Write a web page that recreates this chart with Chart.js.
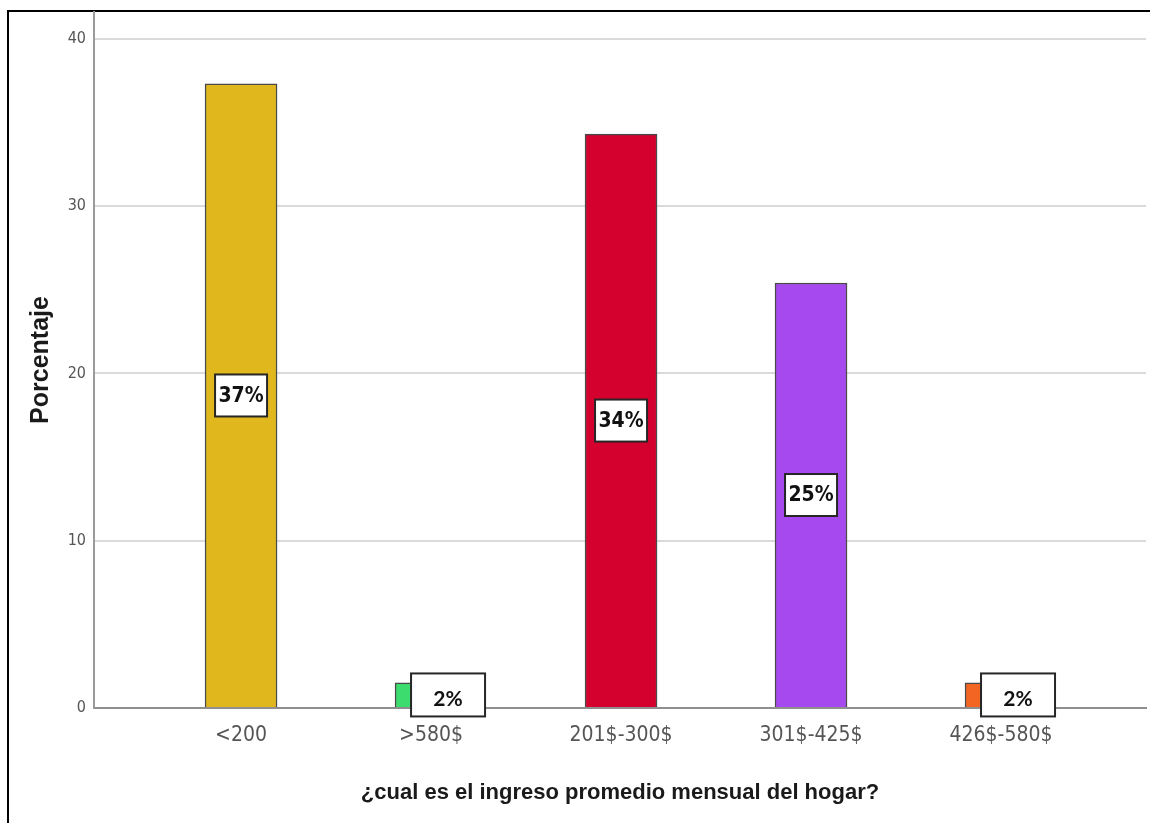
<!DOCTYPE html>
<html lang="es">
<head>
<meta charset="utf-8">
<title>Ingreso promedio mensual del hogar</title>
<script src="https://cdn.jsdelivr.net/npm/chart.js@4/dist/chart.umd.min.js"></script>
<style>
  html, body { margin: 0; padding: 0; background: #fff; }
  #wrap { position: relative; width: 1150px; height: 823px; overflow: hidden; }
  #frame { position: absolute; left: 7px; top: 10px; width: 1200px; height: 900px;
           border-left: 2px solid #000; border-top: 2px solid #000; }
  #chart { position: absolute; left: 0; top: 0; }
</style>
</head>
<body>
<div id="wrap">
  <div id="frame"></div>
  <canvas id="chart" width="1150" height="823"></canvas>
</div>
<script>
// income brackets and share of households (%)
const categories = ["<200", ">580$", "201$-300$", "301$-425$", "426$-580$"];
const percentages = [37.3, 1.5, 34.3, 25.4, 1.5];
const barColors = ["#e0b81e", "#3ddc6e", "#d4002e", "#a64af0", "#f26522"];
const yTicks = [0, 10, 20, 30, 40];

const narrow = '"Liberation Sans Narrow", "DejaVu Sans Condensed", sans-serif';

// white boxes with the rounded percentage on each bar
const barLabels = {
  id: "barLabels",
  afterDatasetsDraw(chart) {
    const ctx = chart.ctx;
    chart.getDatasetMeta(0).data.forEach((bar, i) => {
      const v = percentages[i];
      const text = Math.round(v) + "%";
      const midY = (bar.y + bar.base) / 2;
      let w, h, left, font, textY;
      if (v >= 5) {
        w = 52; h = 42; left = bar.x - w / 2;
        font = "bold 21px " + narrow;
        textY = midY + 1;
      } else {
        // tiny bars: box sits beside the bar
        w = 74; h = 43; left = bar.x - 20;
        font = "bold 21px Lato, sans-serif";
        textY = midY + 4;
      }
      const top = midY - h / 2;
      ctx.save();
      ctx.fillStyle = "#fff";
      ctx.fillRect(left, top, w, h);
      ctx.strokeStyle = "#262626";
      ctx.lineWidth = 2;
      ctx.strokeRect(left, top, w, h);
      ctx.fillStyle = "#111";
      ctx.font = font;
      ctx.textAlign = "center";
      ctx.textBaseline = "middle";
      ctx.fillText(text, left + w / 2, textY);
      ctx.restore();
    });
  }
};

new Chart(document.getElementById("chart"), {
  type: "bar",
  data: {
    datasets: [{
      label: "Porcentaje",
      data: percentages.map((v, i) => ({ x: i, y: v })),
      backgroundColor: barColors,
      borderColor: "#4a4a4a",
      borderWidth: 1.5,
      barThickness: 72,
    }],
  },
  options: {
    responsive: false,
    animation: false,
    layout: { padding: { top: 12, right: 4, left: 0, bottom: 0 } },
    plugins: { legend: { display: false }, tooltip: { enabled: false } },
    scales: {
      x: {
        type: "linear",
        offset: false,
        min: -0.774,
        max: 4.763,
        afterBuildTicks: (s) => { s.ticks = categories.map((c, i) => ({ value: i })); },
        afterFit: (s) => { s.height = 115; },
        grid: { display: false, drawTicks: false },
        border: { color: "#8f8f8f", width: 2 },
        ticks: {
          autoSkip: false,
          maxRotation: 0,
          padding: 15,
          color: "#555",
          font: { family: narrow, size: 21 },
          callback: (v) => categories[v] ?? "",
        },
        title: {
          display: true,
          text: "¿cual es el ingreso promedio mensual del hogar?",
          color: "#1a1a1a",
          font: { family: '"Liberation Sans", Arial, sans-serif', size: 22, weight: "bold", lineHeight: 1 },
          padding: { top: 0, bottom: 19 },
        },
      },
      y: {
        min: 0,
        max: 41.6,
        afterBuildTicks: (s) => { s.ticks = yTicks.map((v) => ({ value: v })); },
        afterFit: (s) => { s.width = 94; s.paddingTop = 0; s.paddingBottom = 0; },
        grid: { color: "#dadada", lineWidth: 2, drawTicks: false },
        border: { color: "#9a9a9a", width: 2 },
        ticks: {
          padding: 8,
          color: "#555",
          font: { family: narrow, size: 16 },
        },
        title: {
          display: true,
          text: "Porcentaje",
          color: "#1a1a1a",
          font: { family: '"Liberation Sans", Arial, sans-serif', size: 25, weight: "bold", lineHeight: 1 },
          padding: { top: 29, bottom: 0 },
        },
      },
    },
  },
  plugins: [barLabels],
});
</script>
</body>
</html>
